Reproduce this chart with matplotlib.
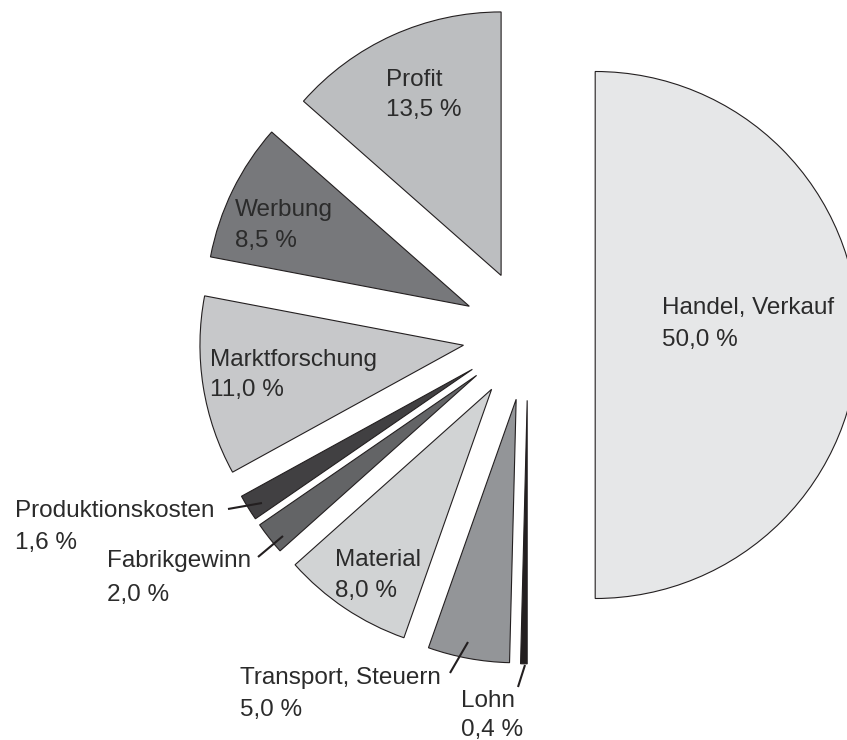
import matplotlib.pyplot as plt

plt.rcParams['font.family'] = ['Liberation Sans', 'DejaVu Sans']

# Data (clockwise from 12 o'clock)
labels = ['Handel, Verkauf', 'Lohn', 'Transport, Steuern', 'Material',
          'Fabrikgewinn', 'Produktionskosten', 'Marktforschung', 'Werbung', 'Profit']
shares = [50.0, 0.4, 5.0, 8.0, 2.0, 1.6, 11.0, 8.5, 13.5]
colors = ['#e6e7e8', '#231f20', '#939598', '#d1d3d4', '#636466',
          '#414042', '#c7c8ca', '#77787b', '#bcbec0']
explode_frac = [0.255, 0.248, 0.248, 0.248, 0.248, 0.248, 0.248, 0.248, 0.248]

W, H = 847, 740
R = 263.5
fig = plt.figure(figsize=(W / 100, H / 100), dpi=100)
ax = fig.add_axes([0, 0, 1, 1])

def py(y):
    # image row -> data y
    return H - y

# matplotlib's explode offset is in data units, so scale by radius
ax.pie(shares, colors=colors, explode=[e * R for e in explode_frac],
       startangle=90, counterclock=False,
       center=(528, py(335)), radius=R, frame=True,
       wedgeprops=dict(edgecolor='#231f20', linewidth=0.8))
ax.set_xlim(0, W)
ax.set_ylim(0, H)
ax.set_aspect('equal')
ax.axis('off')

# label anchors: left x, baseline of first line, baseline of second line
label_pos = {
    'Handel, Verkauf': (662, 314, 346),
    'Profit': (386, 86, 116),
    'Werbung': (235, 216, 247),
    'Marktforschung': (210, 366, 396),
    'Material': (335, 566, 597),
    'Produktionskosten': (15, 517, 549),
    'Fabrikgewinn': (107, 567, 601),
    'Transport, Steuern': (240, 684, 716),
    'Lohn': (461, 707, 736),
}
txt = '#2b2b2b'
for lab, val in zip(labels, shares):
    x, y1, y2 = label_pos[lab]
    pct = f'{val:.1f}'.replace('.', ',') + ' %'
    ax.text(x, py(y1), lab, fontsize=17.5, color=txt, va='baseline', ha='left')
    ax.text(x, py(y2), pct, fontsize=17.5, color=txt, va='baseline', ha='left')

# leader lines for the small slices
leaders = [((228, 509), (262, 503)),
           ((258, 557), (283, 536)),
           ((450, 673), (468, 642)),
           ((518, 687), (525, 665))]
for (x0, y0), (x1, y1) in leaders:
    ax.plot([x0, x1], [py(y0), py(y1)], color='#231f20', lw=1.5, solid_capstyle='butt')

plt.savefig('out.png', dpi=100)
plt.close()
